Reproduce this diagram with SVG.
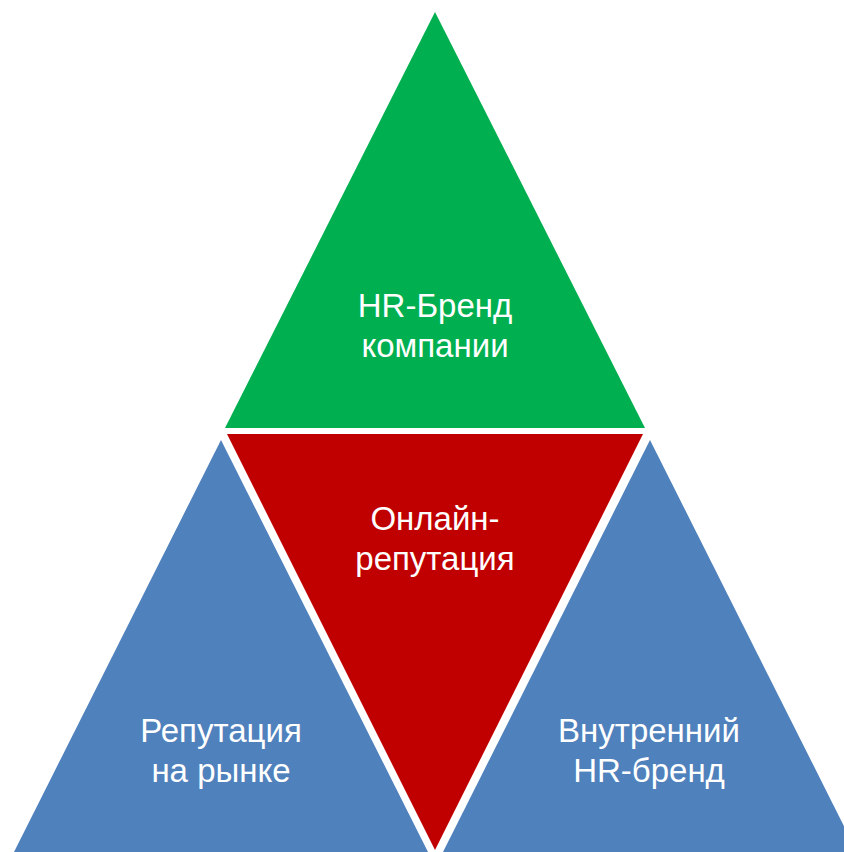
<svg xmlns="http://www.w3.org/2000/svg" width="844" height="852" viewBox="0 0 844 852">
<style>
.t{font-family:"Liberation Sans",Arial,sans-serif;font-size:33px;fill:#ffffff;text-anchor:middle}
</style>
<rect width="844" height="852" fill="#ffffff"/>
<g id="top">
<polygon points="435,12 225,428 645,428" fill="#00B050"/>
<text class="t" x="435" y="317">HR-Бренд</text>
<text class="t" x="435" y="357">компании</text>
</g>
<g id="center">
<polygon points="227,434 643,434 435,850" fill="#C00000"/>
<text class="t" x="435" y="530">Онлайн-</text>
<text class="t" x="435" y="570">репутация</text>
</g>
<g id="left">
<polygon points="221,440 14,852 428,852" fill="#4F81BD"/>
<text class="t" x="221" y="742">Репутация</text>
<text class="t" x="221" y="782">на рынке</text>
</g>
<g id="right">
<polygon points="650,440 443,852 857,852" fill="#4F81BD"/>
<text class="t" x="649" y="742">Внутренний</text>
<text class="t" x="649" y="782">HR-бренд</text>
</g>
<g id="connectors"></g>
</svg>
